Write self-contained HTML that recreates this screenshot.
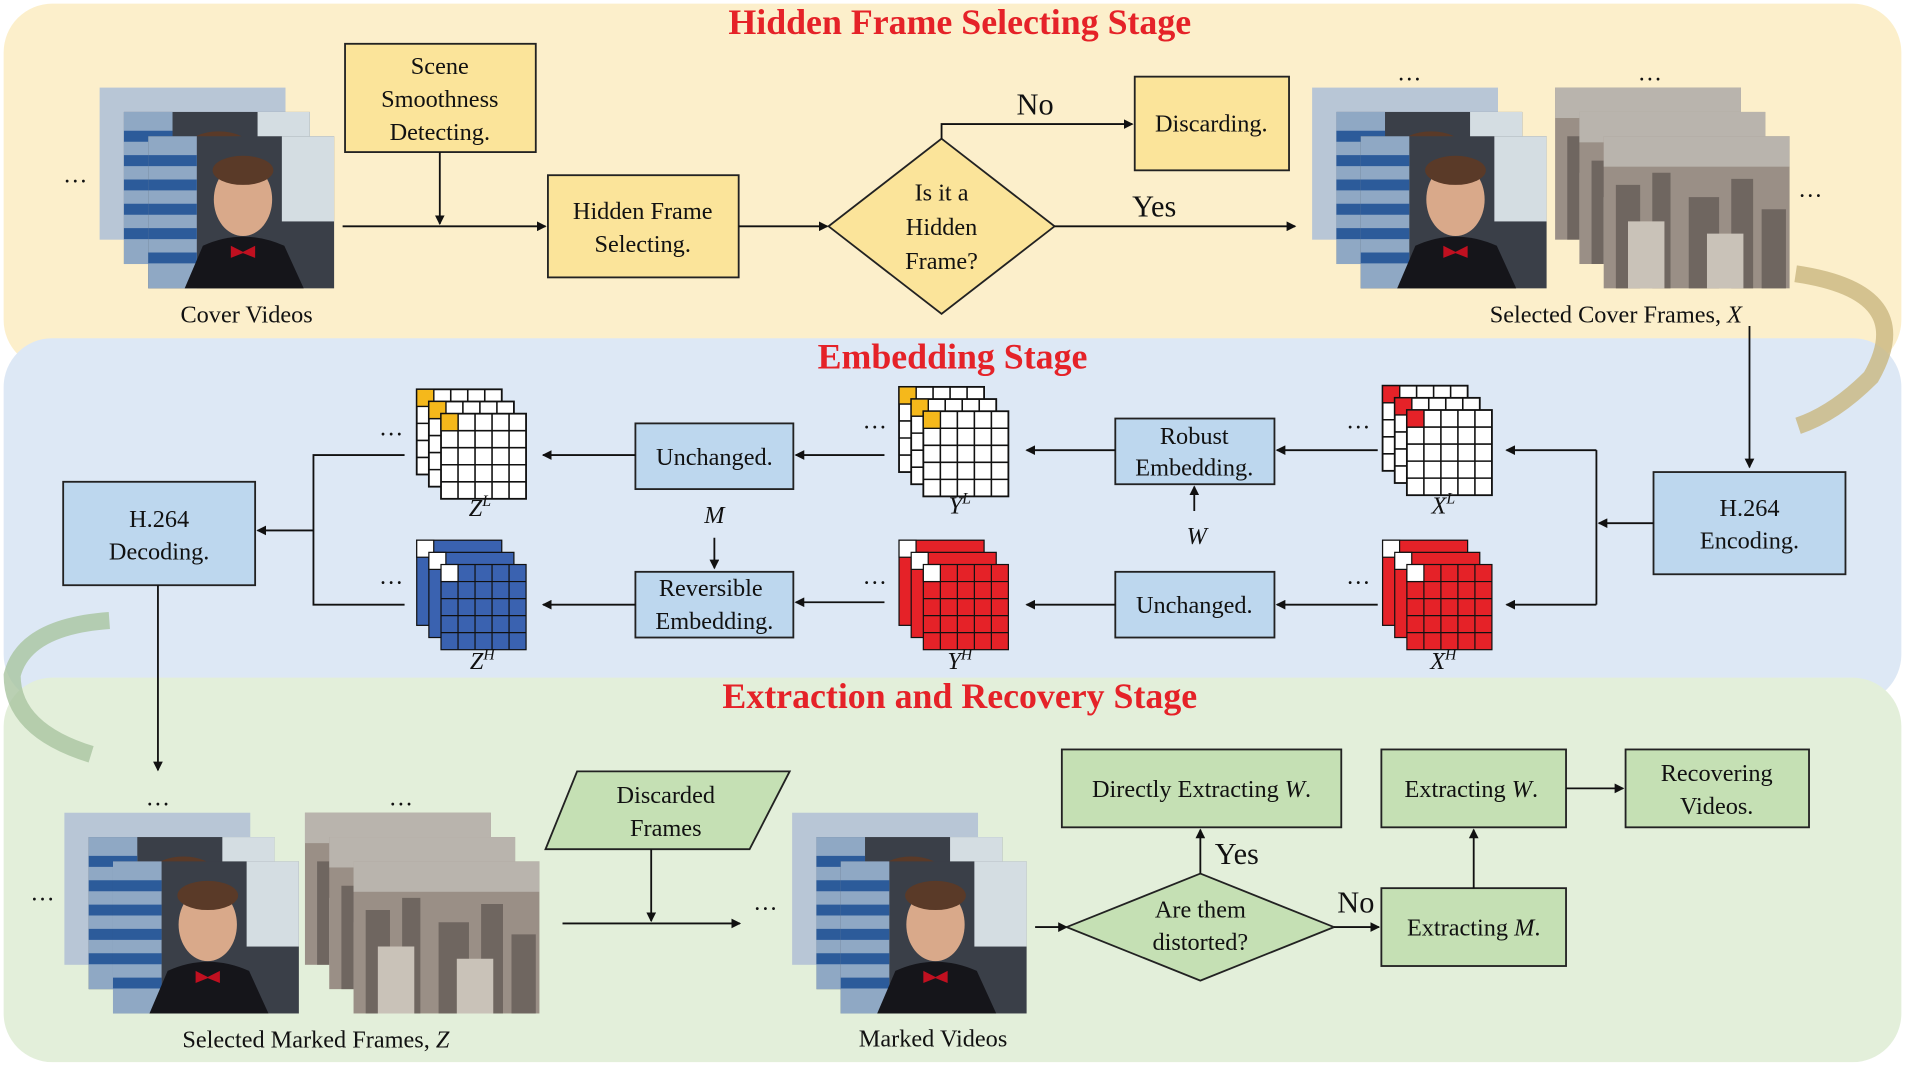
<!DOCTYPE html>
<html><head><meta charset="utf-8"><style>
html,body{margin:0;padding:0;background:#fff;}
svg{display:block;}
text{font-family:"Liberation Serif",serif;fill:#111;}
.t{font-size:20px;}
.h{font-size:29.5px;font-weight:bold;fill:#e52228;}
</style></head><body>
<svg width="1905" height="1067" viewBox="0 0 1568 877" preserveAspectRatio="none" xmlns="http://www.w3.org/2000/svg">
<defs>
<marker id="a" markerWidth="8" markerHeight="8" refX="7" refY="4" orient="auto" markerUnits="userSpaceOnUse"><path d="M0,0 L8,4 L0,8 z" fill="#111"/></marker>
<g id="gw"><rect x="0" y="0" width="70" height="70" fill="#fff" stroke="#111" stroke-width="1.5"/><path d="M14,0V70M28,0V70M42,0V70M56,0V70M0,14H70M0,28H70M0,42H70M0,56H70" stroke="#111" stroke-width="1.3"/></g>
<g id="face">
<rect width="153" height="125" fill="#3a3f48"/>
<rect x="0" y="0" width="40" height="125" fill="#8fa8c4"/>
<path d="M0,20h40M0,40h40M0,60h40M0,80h40M0,100h40" stroke="#2c5b9a" stroke-width="9"/>
<rect x="110" y="0" width="43" height="70" fill="#d4dde2"/>
<ellipse cx="78" cy="52" rx="24" ry="30" fill="#d9a98a"/>
<ellipse cx="78" cy="28" rx="25" ry="12" fill="#5a3a28"/>
<path d="M30,125 L45,90 Q78,75 112,90 L128,125z" fill="#15151a"/>
<path d="M68,90 L78,95 L88,90 L88,100 L78,96 L68,100z" fill="#c01020"/>
</g>
<g id="city">
<rect width="153" height="125" fill="#9a8f86"/>
<rect x="0" y="0" width="153" height="25" fill="#b9b4ad"/>
<path d="M10,40h20v85h-20zM40,30h15v95h-15zM70,50h25v75h-25zM105,35h18v90h-18zM130,60h20v65h-20z" fill="#6f6660"/>
<path d="M20,70h30v55h-30zM85,80h30v45h-30z" fill="#c9c2b8"/>
</g>
<g id="stackF"><rect x="-40" y="-40" width="153" height="125" fill="#b8c6d6"/><use href="#face" x="-20" y="-20"/><use href="#face"/></g>
<g id="stackC"><use href="#city" x="-40" y="-40"/><use href="#city" x="-20" y="-20"/><use href="#city"/></g>
</defs>

<rect x="3" y="3" width="1562" height="300" rx="40" fill="#fcefcb"/>
<rect x="3" y="278" width="1562" height="300" rx="40" fill="#dde8f5"/>
<rect x="3" y="557" width="1562" height="316" rx="40" fill="#e3efda"/>

<text class="h" x="790" y="28" text-anchor="middle">Hidden Frame Selecting Stage</text>
<text class="h" x="784" y="303" text-anchor="middle">Embedding Stage</text>
<text class="h" x="790" y="582" text-anchor="middle">Extraction and Recovery Stage</text>

<use href="#stackF" x="122" y="112"/>
<text class="t" x="62" y="150" text-anchor="middle">…</text>
<text class="t" x="203" y="265" text-anchor="middle">Cover Videos</text>
<rect x="284" y="36" width="157" height="89" fill="#fbe49a" stroke="#222" stroke-width="1.5"/>
<text class="t" x="362" y="61" text-anchor="middle">Scene</text>
<text class="t" x="362" y="88" text-anchor="middle">Smoothness</text>
<text class="t" x="362" y="115" text-anchor="middle">Detecting.</text>
<path d="M362,125V184" stroke="#111" stroke-width="1.5" marker-end="url(#a)"/>
<path d="M282,186H449" stroke="#111" stroke-width="1.5" marker-end="url(#a)"/>
<rect x="451" y="144" width="157" height="84" fill="#fbe49a" stroke="#222" stroke-width="1.5"/>
<text class="t" x="529" y="180" text-anchor="middle">Hidden Frame</text>
<text class="t" x="529" y="207" text-anchor="middle">Selecting.</text>
<path d="M608,186H681" stroke="#111" stroke-width="1.5" marker-end="url(#a)"/>
<path d="M775,114 L868,186 L775,258 L682,186z" fill="#fbe49a" stroke="#222" stroke-width="1.5"/>
<text class="t" x="775" y="165" text-anchor="middle">Is it a</text>
<text class="t" x="775" y="193" text-anchor="middle">Hidden</text>
<text class="t" x="775" y="221" text-anchor="middle">Frame?</text>
<path d="M775,114V102H932" stroke="#111" stroke-width="1.5" fill="none" marker-end="url(#a)"/>
<text class="t" x="852" y="94" text-anchor="middle" style="font-size:25px">No</text>
<rect x="934" y="63" width="127" height="77" fill="#fbe49a" stroke="#222" stroke-width="1.5"/>
<text class="t" x="997" y="108" text-anchor="middle">Discarding.</text>
<path d="M868,186H1066" stroke="#111" stroke-width="1.5" marker-end="url(#a)"/>
<text class="t" x="950" y="178" text-anchor="middle" style="font-size:25px">Yes</text>
<use href="#stackF" x="1120" y="112"/>
<text class="t" x="1160" y="66" text-anchor="middle">…</text>
<use href="#stackC" x="1320" y="112"/>
<text class="t" x="1358" y="66" text-anchor="middle">…</text>
<text class="t" x="1490" y="162" text-anchor="middle">…</text>
<text class="t" x="1330" y="265" text-anchor="middle">Selected Cover Frames, <tspan font-style="italic">X</tspan></text>
<path d="M1478,225 Q1580,240 1540,310 Q1510,340 1480,350" stroke="#c9b680" stroke-width="14" fill="none" opacity="0.8"/>

<path d="M1440,268V384" stroke="#111" stroke-width="1.5" marker-end="url(#a)"/>
<rect x="1361" y="388" width="158" height="84" fill="#bdd7ee" stroke="#222" stroke-width="1.5"/>
<text class="t" x="1440" y="424" text-anchor="middle">H.264</text>
<text class="t" x="1440" y="451" text-anchor="middle">Encoding.</text>
<path d="M1361,430H1316" stroke="#111" stroke-width="1.5" marker-end="url(#a)"/>
<path d="M1314,370V497" stroke="#111" stroke-width="1.5"/>
<path d="M1314,370H1240" stroke="#111" stroke-width="1.5" marker-end="url(#a)"/>
<path d="M1314,497H1240" stroke="#111" stroke-width="1.5" marker-end="url(#a)"/>

<g><use href="#gw" x="343" y="320"/><rect x="343" y="320" width="14" height="14" fill="#f5b81b" stroke="#111"/>
<use href="#gw" x="353" y="330"/><rect x="353" y="330" width="14" height="14" fill="#f5b81b" stroke="#111"/>
<use href="#gw" x="363" y="340"/><rect x="363" y="340" width="14" height="14" fill="#f5b81b" stroke="#111"/></g>
<g><use href="#gw" x="740" y="318"/><rect x="740" y="318" width="14" height="14" fill="#f5b81b" stroke="#111"/>
<use href="#gw" x="750" y="328"/><rect x="750" y="328" width="14" height="14" fill="#f5b81b" stroke="#111"/>
<use href="#gw" x="760" y="338"/><rect x="760" y="338" width="14" height="14" fill="#f5b81b" stroke="#111"/></g>
<g><use href="#gw" x="1138" y="317"/><rect x="1138" y="317" width="14" height="14" fill="#e52228" stroke="#111"/>
<use href="#gw" x="1148" y="327"/><rect x="1148" y="327" width="14" height="14" fill="#e52228" stroke="#111"/>
<use href="#gw" x="1158" y="337"/><rect x="1158" y="337" width="14" height="14" fill="#e52228" stroke="#111"/></g>
<g><rect x="343" y="444" width="70" height="70" fill="#3a62b0" stroke="#111"/><rect x="353" y="454" width="70" height="70" fill="#3a62b0" stroke="#111"/><rect x="363" y="464" width="70" height="70" fill="#3a62b0" stroke="#111"/>
<path d="M377,464V534M391,464V534M405,464V534M419,464V534M363,478H433M363,492H433M363,506H433M363,520H433" stroke="#111"/>
<rect x="343" y="444" width="14" height="14" fill="#fff" stroke="#111"/><rect x="353" y="454" width="14" height="14" fill="#fff" stroke="#111"/><rect x="363" y="464" width="14" height="14" fill="#fff" stroke="#111"/></g>
<g><rect x="740" y="444" width="70" height="70" fill="#e52228" stroke="#111"/><rect x="750" y="454" width="70" height="70" fill="#e52228" stroke="#111"/><rect x="760" y="464" width="70" height="70" fill="#e52228" stroke="#111"/>
<path d="M774,464V534M788,464V534M802,464V534M816,464V534M760,478H830M760,492H830M760,506H830M760,520H830" stroke="#111"/>
<rect x="740" y="444" width="14" height="14" fill="#fff" stroke="#111"/><rect x="750" y="454" width="14" height="14" fill="#fff" stroke="#111"/><rect x="760" y="464" width="14" height="14" fill="#fff" stroke="#111"/></g>
<g><rect x="1138" y="444" width="70" height="70" fill="#e52228" stroke="#111"/><rect x="1148" y="454" width="70" height="70" fill="#e52228" stroke="#111"/><rect x="1158" y="464" width="70" height="70" fill="#e52228" stroke="#111"/>
<path d="M1172,464V534M1186,464V534M1200,464V534M1214,464V534M1158,478H1228M1158,492H1228M1158,506H1228M1158,520H1228" stroke="#111"/>
<rect x="1138" y="444" width="14" height="14" fill="#fff" stroke="#111"/><rect x="1148" y="454" width="14" height="14" fill="#fff" stroke="#111"/><rect x="1158" y="464" width="14" height="14" fill="#fff" stroke="#111"/></g>

<text class="t" x="322" y="358" text-anchor="middle">…</text>
<text class="t" x="720" y="352" text-anchor="middle">…</text>
<text class="t" x="1118" y="352" text-anchor="middle">…</text>
<text class="t" x="322" y="480" text-anchor="middle">…</text>
<text class="t" x="720" y="480" text-anchor="middle">…</text>
<text class="t" x="1118" y="480" text-anchor="middle">…</text>
<text class="t" x="395" y="424" text-anchor="middle" font-style="italic">Z<tspan font-size="13" dy="-8">L</tspan></text>
<text class="t" x="790" y="422" text-anchor="middle" font-style="italic">Y<tspan font-size="13" dy="-8">L</tspan></text>
<text class="t" x="1188" y="422" text-anchor="middle" font-style="italic">X<tspan font-size="13" dy="-8">L</tspan></text>
<text class="t" x="397" y="550" text-anchor="middle" font-style="italic">Z<tspan font-size="13" dy="-8">H</tspan></text>
<text class="t" x="790" y="550" text-anchor="middle" font-style="italic">Y<tspan font-size="13" dy="-8">H</tspan></text>
<text class="t" x="1188" y="550" text-anchor="middle" font-style="italic">X<tspan font-size="13" dy="-8">H</tspan></text>

<rect x="918" y="344" width="131" height="54" fill="#bdd7ee" stroke="#222" stroke-width="1.5"/>
<text class="t" x="983" y="365" text-anchor="middle">Robust</text>
<text class="t" x="983" y="391" text-anchor="middle">Embedding.</text>
<path d="M1134,370H1051" stroke="#111" stroke-width="1.5" marker-end="url(#a)"/>
<path d="M918,370H845" stroke="#111" stroke-width="1.5" marker-end="url(#a)"/>
<path d="M983,420V400" stroke="#111" stroke-width="1.5" marker-end="url(#a)"/>
<text class="t" x="985" y="447" text-anchor="middle" font-style="italic">W</text>
<rect x="918" y="470" width="131" height="54" fill="#bdd7ee" stroke="#222" stroke-width="1.5"/>
<text class="t" x="983" y="504" text-anchor="middle">Unchanged.</text>
<path d="M1134,497H1051" stroke="#111" stroke-width="1.5" marker-end="url(#a)"/>
<path d="M918,497H845" stroke="#111" stroke-width="1.5" marker-end="url(#a)"/>

<rect x="523" y="348" width="130" height="54" fill="#bdd7ee" stroke="#222" stroke-width="1.5"/>
<text class="t" x="588" y="382" text-anchor="middle">Unchanged.</text>
<path d="M728,374H655" stroke="#111" stroke-width="1.5" marker-end="url(#a)"/>
<path d="M523,374H447" stroke="#111" stroke-width="1.5" marker-end="url(#a)"/>
<text class="t" x="588" y="430" text-anchor="middle" font-style="italic">M</text>
<path d="M588,442V467" stroke="#111" stroke-width="1.5" marker-end="url(#a)"/>
<rect x="523" y="470" width="130" height="54" fill="#bdd7ee" stroke="#222" stroke-width="1.5"/>
<text class="t" x="585" y="490" text-anchor="middle">Reversible</text>
<text class="t" x="588" y="517" text-anchor="middle">Embedding.</text>
<path d="M728,495H655" stroke="#111" stroke-width="1.5" marker-end="url(#a)"/>
<path d="M523,497H447" stroke="#111" stroke-width="1.5" marker-end="url(#a)"/>

<path d="M333,374H258V497H333" stroke="#111" stroke-width="1.5" fill="none"/>
<path d="M258,436H212" stroke="#111" stroke-width="1.5" marker-end="url(#a)"/>
<rect x="52" y="396" width="158" height="85" fill="#bdd7ee" stroke="#222" stroke-width="1.5"/>
<text class="t" x="131" y="433" text-anchor="middle">H.264</text>
<text class="t" x="131" y="460" text-anchor="middle">Decoding.</text>
<path d="M130,481V633" stroke="#111" stroke-width="1.5" marker-end="url(#a)"/>
<path d="M90,510 Q20,515 10,555 Q10,600 75,620" stroke="#a9c4a0" stroke-width="14" fill="none" opacity="0.8"/>

<text class="t" x="130" y="662" text-anchor="middle">…</text>
<use href="#stackF" x="93" y="708"/>
<text class="t" x="35" y="740" text-anchor="middle">…</text>
<text class="t" x="330" y="662" text-anchor="middle">…</text>
<use href="#stackC" x="291" y="708"/>
<text class="t" x="260" y="861" text-anchor="middle">Selected Marked Frames, <tspan font-style="italic">Z</tspan></text>
<path d="M475,634H650L617,698H449z" fill="#c5e0b4" stroke="#222" stroke-width="1.5"/>
<text class="t" x="548" y="660" text-anchor="middle">Discarded</text>
<text class="t" x="548" y="687" text-anchor="middle">Frames</text>
<path d="M536,698V757" stroke="#111" stroke-width="1.5" marker-end="url(#a)"/>
<path d="M463,759H609" stroke="#111" stroke-width="1.5" marker-end="url(#a)"/>
<text class="t" x="630" y="748" text-anchor="middle">…</text>
<use href="#stackF" x="692" y="708"/>
<text class="t" x="768" y="860" text-anchor="middle">Marked Videos</text>
<path d="M852,762H878" stroke="#111" stroke-width="1.5" marker-end="url(#a)"/>
<path d="M988,718 L1098,762 L988,806 L878,762z" fill="#c5e0b4" stroke="#222" stroke-width="1.5"/>
<text class="t" x="988" y="754" text-anchor="middle">Are them</text>
<text class="t" x="988" y="781" text-anchor="middle">distorted?</text>
<path d="M988,718V682" stroke="#111" stroke-width="1.5" marker-end="url(#a)"/>
<text class="t" x="1018" y="710" text-anchor="middle" style="font-size:25px">Yes</text>
<rect x="874" y="616" width="230" height="64" fill="#c5e0b4" stroke="#222" stroke-width="1.5"/>
<text class="t" x="989" y="655" text-anchor="middle">Directly Extracting <tspan font-style="italic">W</tspan>.</text>
<path d="M1098,762H1135" stroke="#111" stroke-width="1.5" marker-end="url(#a)"/>
<text class="t" x="1116" y="750" text-anchor="middle" style="font-size:25px">No</text>
<rect x="1137" y="730" width="152" height="64" fill="#c5e0b4" stroke="#222" stroke-width="1.5"/>
<text class="t" x="1213" y="769" text-anchor="middle">Extracting <tspan font-style="italic">M</tspan>.</text>
<path d="M1213,730V682" stroke="#111" stroke-width="1.5" marker-end="url(#a)"/>
<rect x="1137" y="616" width="152" height="64" fill="#c5e0b4" stroke="#222" stroke-width="1.5"/>
<text class="t" x="1211" y="655" text-anchor="middle">Extracting <tspan font-style="italic">W</tspan>.</text>
<path d="M1289,648H1336" stroke="#111" stroke-width="1.5" marker-end="url(#a)"/>
<rect x="1338" y="616" width="151" height="64" fill="#c5e0b4" stroke="#222" stroke-width="1.5"/>
<text class="t" x="1413" y="642" text-anchor="middle">Recovering</text>
<text class="t" x="1413" y="669" text-anchor="middle">Videos.</text>
</svg>
</body></html>
